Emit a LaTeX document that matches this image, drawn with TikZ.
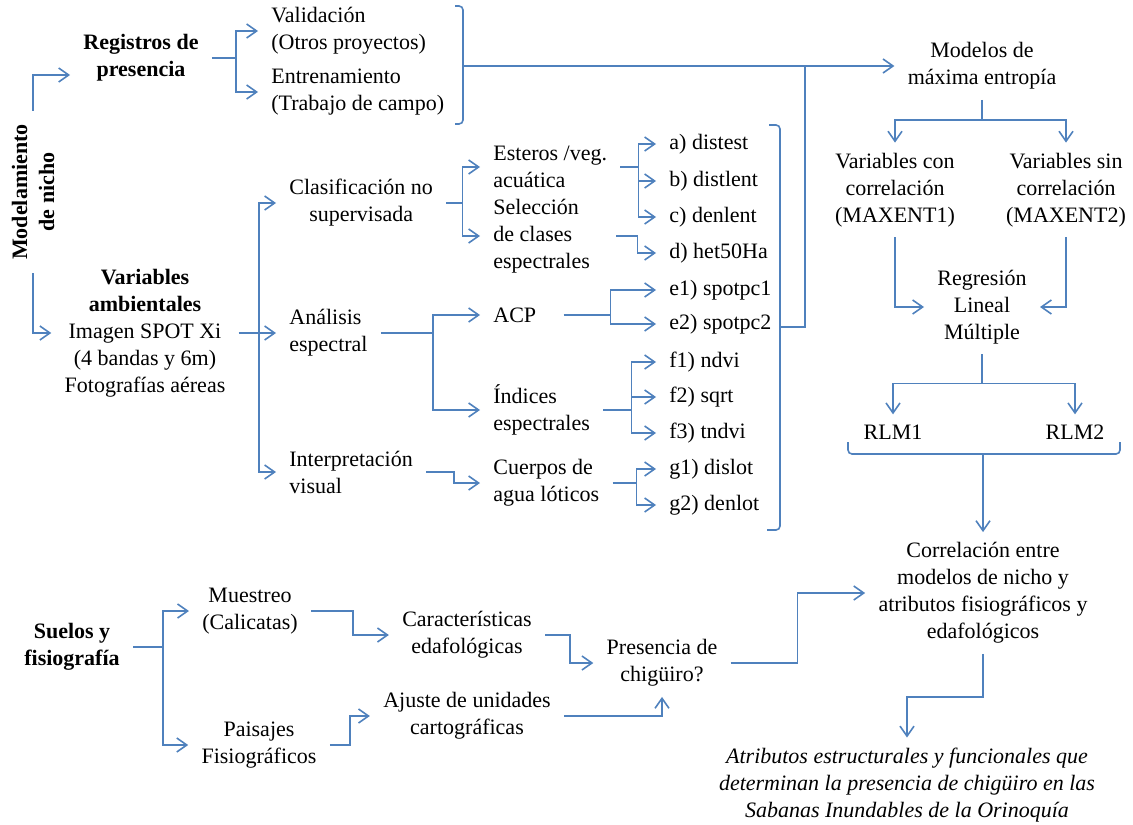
\documentclass[tikz,border=0pt]{standalone}
\usepackage{fontspec}
\setmainfont{Liberation Serif}
\usetikzlibrary{arrows.meta}
\definecolor{flowBlue}{RGB}{79,129,189}

\begin{document}
\begin{tikzpicture}[x=0.5pt,y=-0.5pt,
  txt/.style={font=\fontsize{11}{13.5}\selectfont,align=center,inner xsep=6.5pt,inner ysep=5pt},
  lft/.style={txt,align=left,anchor=west},
  hd/.style={txt,font=\fontsize{11}{13.5}\selectfont\bfseries},
  ln/.style={flowBlue,line width=0.8pt},
  arr/.style={ln,-{Straight Barb[length=5pt,width=7pt]}}]
  \useasboundingbox (0,0) rectangle (1133,824);
  % niche modelling
  \node[hd,rotate=90] (nicho) at (33,192) {Modelamiento\\de nicho};
  \node[hd] (reg) at (141,58) {Registros de\\presencia};
  \node[lft] (val) at (258,31) {Validación\\(Otros proyectos)};
  \node[lft] (ent) at (258,92) {Entrenamiento\\(Trabajo de campo)};
  \draw[arr] (nicho.east) |- ([yshift=-8.5pt]reg.west);
  \draw[ln] (reg.east) -- ++(24,0) coordinate (regfork);
  \draw[arr] (regfork) |- (val.west);
  \draw[arr] (regfork) |- (ent.west);
  \coordinate (regbrace) at (463,66);
  \draw[ln,rounded corners=2pt] (455,6) -| (463,124) -- (455,124);
  \node[txt] (mod) at (982,66) {Modelos de\\máxima entropía};
  \draw[arr] (regbrace) -- (mod.west);
  % environmental variables
  \node[txt] (var) at (145,333) {\textbf{Variables}\\\textbf{ambientales}\\Imagen SPOT Xi\\(4 bandas y 6m)\\Fotografías aéreas};
  \draw[arr] (nicho.west) |- (var.west);
  \draw[ln] (var.east) -- ++(20,0) coordinate (varfork);
  \node[lft,align=center] (cls) at (276,203) {Clasificación no\\supervisada};
  \node[lft] (ana) at (276,333) {Análisis\\espectral};
  \node[lft] (int) at (276,472) {Interpretación\\visual};
  \draw[arr] (varfork) |- (cls.west);
  \draw[arr] (varfork) |- (ana.west);
  \draw[arr] (varfork) |- (int.west);
  \node[lft] (est) at (480,167) {Esteros /veg.\\acuática};
  \node[lft] (sel) at (480,236) {Selección\\de clases\\espectrales};
  \draw[ln] (cls.east) -- ++(16,0) coordinate (clsfork);
  \draw[arr] (clsfork) |- (est.west);
  \draw[arr] (clsfork) |- (sel.west);
  \node[lft] (acp) at (480,315) {ACP};
  \node[lft] (ind) at (480,410) {Índices\\espectrales};
  \draw[ln] (ana.east) -- ++(52,0) coordinate (anafork);
  \draw[arr] (anafork) |- (acp.west);
  \draw[arr] (anafork) |- (ind.west);
  \node[lft] (cue) at (480,483) {Cuerpos de\\agua lóticos};
  \draw[arr] (int.east) -- ++(28,0) |- (cue.west);
  % variables
  \node[lft] (distest) at (656,144) {a) distest};
  \node[lft] (distlent) at (656,181) {b) distlent};
  \node[lft] (denlent) at (656,217) {c) denlent};
  \node[lft] (het) at (656,253) {d) het50Ha};
  \node[lft] (pc1) at (656,290) {e1) spotpc1};
  \node[lft] (pc2) at (656,324) {e2) spotpc2};
  \node[lft] (ndvi) at (656,362) {f1) ndvi};
  \node[lft] (sqrt) at (656,397) {f2) sqrt};
  \node[lft] (tndvi) at (656,433) {f3) tndvi};
  \node[lft] (dislot) at (656,469) {g1) dislot};
  \node[lft] (denlot) at (656,505) {g2) denlot};
  \draw[ln] (est.east) -- ++(18,0) coordinate (estfork);
  \draw[arr] (estfork) |- (distest.west);
  \draw[arr] (estfork) |- (distlent.west);
  \draw[arr] (estfork) |- (denlent.west);
  \draw[arr] ([xshift=6.5pt]sel.east) -- ++(21,0) |- (het.west);
  \draw[ln] ([xshift=7pt]acp.east) -- ++(47,0) coordinate (acpfork);
  \draw[arr] (acpfork) |- (pc1.west);
  \draw[arr] (acpfork) |- (pc2.west);
  \draw[ln] (ind.east) -- ++(28,0) coordinate (indfork);
  \draw[arr] (indfork) |- (ndvi.west);
  \draw[arr] (indfork) |- (sqrt.west);
  \draw[arr] (indfork) |- (tndvi.west);
  \draw[ln] (cue.east) -- ++(24,0) coordinate (cuefork);
  \draw[arr] (cuefork) |- (dislot.west);
  \draw[arr] (cuefork) |- (denlot.west);
  \coordinate (varbrace) at (780,327);
  \draw[ln,rounded corners=2pt] (769,125) -| (780,530) -- (767,530);
  \draw[ln] (varbrace) -- ++(25,0) |- (regbrace);
  % maxent and regression
  \node[txt] (vcon) at (895,190) {Variables con\\correlación\\(MAXENT1)};
  \node[txt] (vsin) at (1066,190) {Variables sin\\correlación\\(MAXENT2)};
  \draw[ln] (mod.south) -- ++(0,20) coordinate (modfork);
  \draw[arr] (modfork) -| (vcon.north);
  \draw[arr] (modfork) -| (vsin.north);
  \node[txt] (rlm) at (982,307) {Regresión\\Lineal\\Múltiple};
  \draw[arr] (vcon.south) |- (rlm.west);
  \draw[arr] (vsin.south) |- (rlm.east);
  \node[txt] (rlm1) at (893,432) {RLM1};
  \node[txt] (rlm2) at (1075,432) {RLM2};
  \draw[ln] (rlm.south) -- ++(0,29) coordinate (rlmfork);
  \draw[arr] (rlmfork) -| (rlm1.north);
  \draw[arr] (rlmfork) -| (rlm2.north);
  \coordinate (rlmbrace) at (983,454);
  \draw[ln,rounded corners=2pt] (848,442) |- (1120,454) -- (1120,442);
  \node[txt] (cor) at (983,593) {Correlación entre\\modelos de nicho y\\atributos fisiográficos y\\edafológicos};
  \draw[arr] (rlmbrace) -- (cor.north);
  \node[txt,font=\fontsize{11}{13.5}\selectfont\itshape] (fin) at (907,785) {Atributos estructurales y funcionales que\\determinan la presencia de chigüiro en las\\Sabanas Inundables de la Orinoquía};
  \draw[arr] (cor.south) -- ++(0,43) -| (fin.north);
  % soils and physiography
  \node[hd] (sue) at (72,647) {Suelos y\\fisiografía};
  \node[txt] (mue) at (250,611) {Muestreo\\(Calicatas)};
  \node[txt] (pai) at (259,745) {Paisajes\\Fisiográficos};
  \draw[ln] (sue.east) -- ++(30,0) coordinate (suefork);
  \draw[arr] (suefork) |- (mue.west);
  \draw[arr] (suefork) |- (pai.west);
  \node[txt] (car) at (467,635) {Características\\edafológicas};
  \node[txt] (aju) at (467,716) {Ajuste de unidades\\cartográficas};
  \draw[arr] (mue.east) -- ++(42,0) |- (car.west);
  \draw[arr] (pai.east) -- ++(20,0) |- (aju.west);
  \node[txt] (pre) at (662,663) {Presencia de\\chigüiro?};
  \draw[arr] (car.east) -- ++(25,0) |- (pre.west);
  \draw[arr] (aju.east) -| (pre.south);
  \draw[arr] (pre.east) -- ++(67,0) |- (cor.west);
\end{tikzpicture}
\end{document}
